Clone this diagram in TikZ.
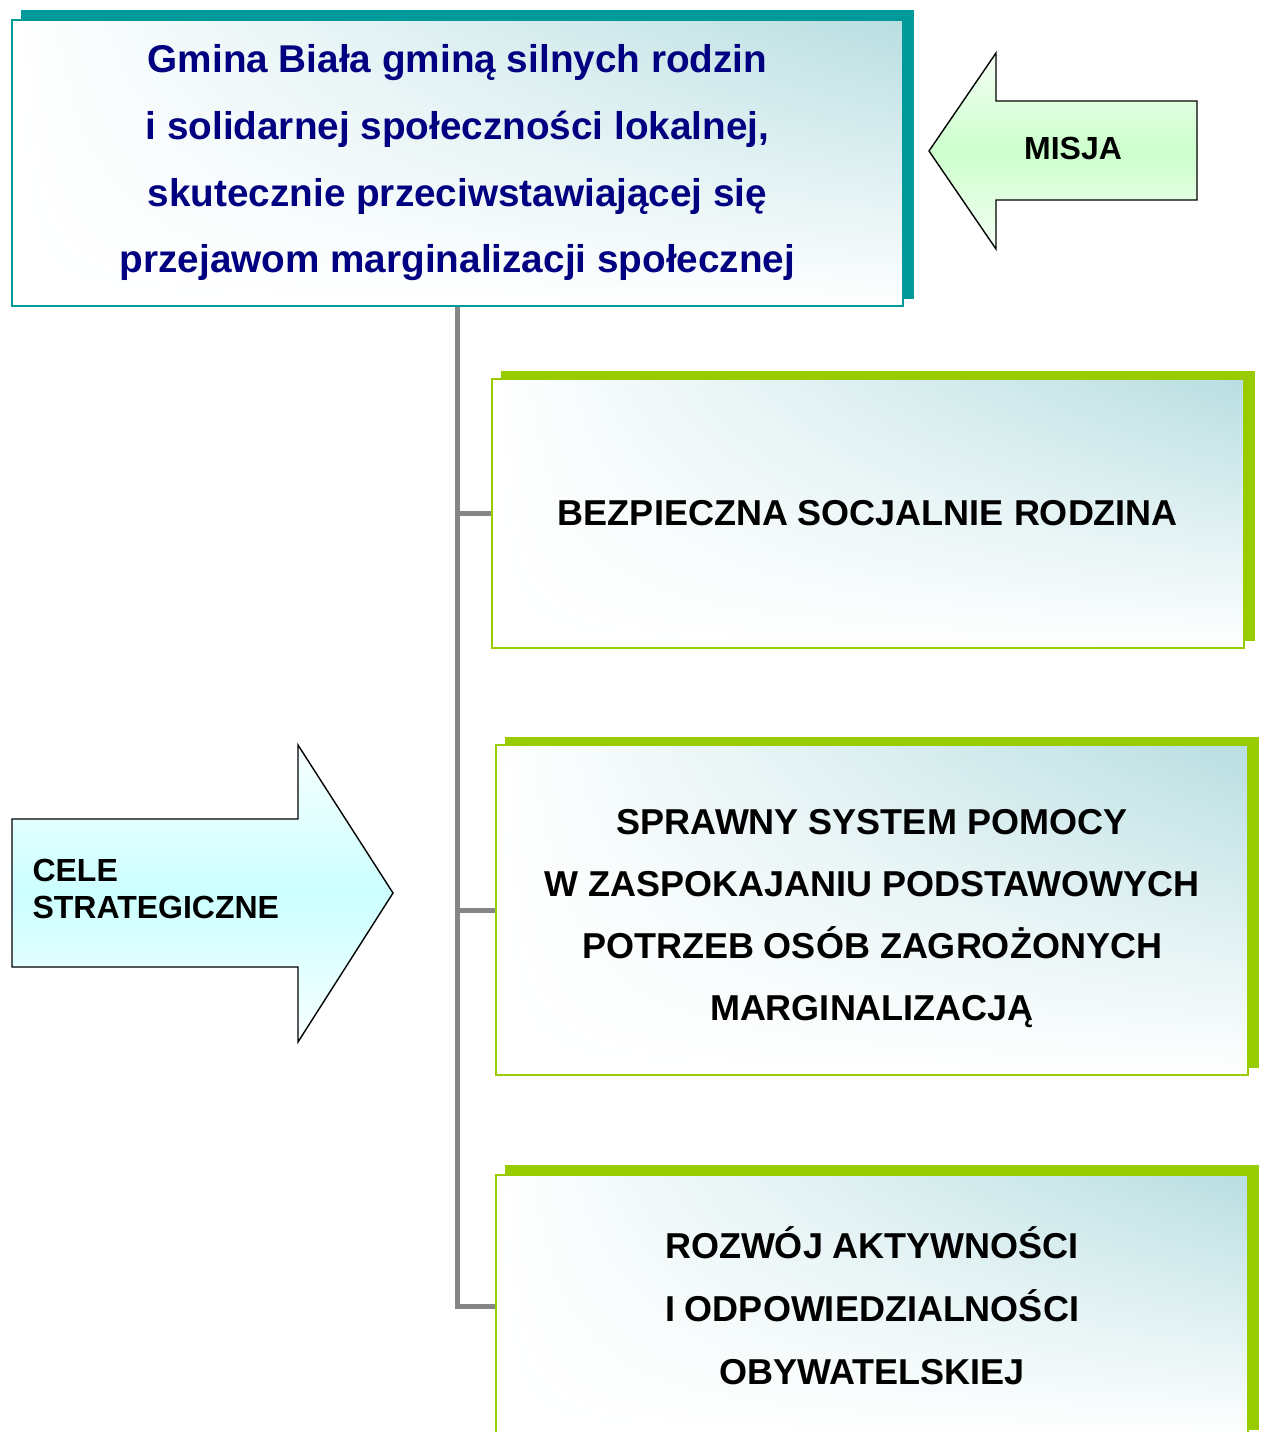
\documentclass[tikz,border=0pt]{standalone}
\usepackage{fontspec}
\setmainfont{Liberation Sans}
\usetikzlibrary{calc,backgrounds,shadings}
\definecolor{tealc}{HTML}{009999}
\definecolor{greenc}{HTML}{99CC00}
\definecolor{navyc}{HTML}{000080}
\definecolor{fadec}{HTML}{B8DEE1}
\definecolor{cyanf}{HTML}{CCFFFF}
\definecolor{greenf}{HTML}{CCFFCC}
\definecolor{connc}{HTML}{868686}
\tikzset{
  fbox/.style={draw=#1, line width=1.6pt, rectangle, inner sep=0pt,
    shade, upper right=fadec, upper left=white, lower left=white, lower right=white},
  boxtext/.style={font=\bfseries\fontsize{36}{62}\selectfont, align=center, text=black},
  conn/.style={draw=connc, line width=5pt},
  arrowshape/.style={draw=black, line width=1.4pt, line join=miter},
  arrowtext/.style={font=\bfseries\fontsize{32}{37}\selectfont, text=black}
}
\begin{document}
\begin{tikzpicture}[x=1pt,y=-1pt]
\useasboundingbox (0,0) rectangle (1263,1432);
\clip (0,0) rectangle (1263,1432);

% top mission box
\node[fbox=tealc, minimum width=891pt, minimum height=286pt,
  font=\bfseries\fontsize{38.7}{66.7}\selectfont, text=navyc, align=center]
  (top) at (457.5,163) {Gmina Biała gminą silnych rodzin\\i solidarnej społeczności lokalnej,\\skutecznie przeciwstawiającej się\\przejawom marginalizacji społecznej};

% goal boxes
\node[fbox=greenc, minimum width=752pt, minimum height=269pt, boxtext]
  (b1) at (868,513.5) {BEZPIECZNA SOCJALNIE RODZINA};
\node[fbox=greenc, minimum width=752pt, minimum height=330pt]
  (b2) at (872,910) {};
\node[boxtext] (b2t) at ($(b2.center)+(0,9)$) {SPRAWNY SYSTEM POMOCY\\W ZASPOKAJANIU PODSTAWOWYCH\\POTRZEB OSÓB ZAGROŻONYCH\\MARGINALIZACJĄ};
\node[fbox=greenc, minimum width=752pt, minimum height=262pt, boxtext,
  font=\bfseries\fontsize{36}{63}\selectfont]
  (b3) at (872,1306) {ROZWÓJ AKTYWNOŚCI\\I ODPOWIEDZIALNOŚCI\\OBYWATELSKIEJ};

\begin{scope}[on background layer]
  \fill[tealc] ($(top.north west)+(10,-9)$) rectangle ($(top.south east)+(10,-8)$);
  \fill[greenc] ($(b1.north west)+(10,-7)$) rectangle ($(b1.south east)+(10,-8)$);
  \fill[greenc] ($(b2.north west)+(10,-7)$) rectangle ($(b2.south east)+(10,-8)$);
  \fill[greenc] ($(b3.north west)+(10,-9)$) rectangle ($(b3.south east)+(10,-8)$);
  % connectors
  \draw[conn] (top.south) |- (b3.west);
  \coordinate (j1) at (top.south |- b1.west);
  \coordinate (j2) at (top.south |- b2.west);
  \draw[conn] (j1) -- (b1.west);
  \draw[conn] (j2) -- (b2.west);
\end{scope}

% MISJA arrow
\shadedraw[arrowshape, top color=white!80!greenf, bottom color=white!80!greenf, middle color=greenf]
  (929,151) -- (996,53) -- (996,101) -- (1197,101) -- (1197,200) -- (996,200) -- (996,249) -- cycle;
\node[arrowtext] (misja) at (1073,148) {MISJA};

% CELE arrow
\shadedraw[arrowshape, top color=white!85!cyanf, bottom color=white!85!cyanf, middle color=cyanf]
  (12,819) -- (298,819) -- (298,745) -- (393,893) -- (298,1042) -- (298,967) -- (12,967) -- cycle;
\node[arrowtext, align=left, anchor=west] (cele) at (29,889) {CELE\\STRATEGICZNE};
\end{tikzpicture}
\end{document}
